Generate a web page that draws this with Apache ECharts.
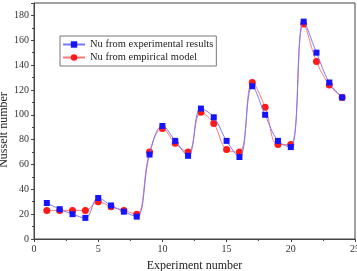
<!DOCTYPE html>
<html>
<head>
<meta charset="utf-8">
<script src="https://cdn.jsdelivr.net/npm/echarts@6/dist/echarts.min.js"></script>
<style>
  html, body { margin: 0; padding: 0; background: #fff; }
  #chart { width: 357px; height: 271px; }
</style>
</head>
<body>
<div id="chart"></div>
<script>
// Experiment numbers and the two Nusselt series
const experiments = [1, 2, 3, 4, 5, 6, 7, 8, 9, 10, 11, 12, 13, 14, 15, 16, 17, 18, 19, 20, 21, 22, 23, 24];
const nuExperimental = [29, 24, 20, 17, 33, 27, 22, 18, 68, 91, 79, 67, 105, 98, 79, 66, 123, 100, 79, 74, 175, 150, 126, 114];
const nuEmpirical = [23, 23, 23, 23, 30, 26, 23, 20, 70, 89, 77, 70, 102, 93, 72, 70, 126, 106, 76, 76, 173, 143, 124, 114];
const seriesNames = ['Nu from experimental results', 'Nu from empirical model'];

var chartDom = document.getElementById('chart');
var myChart = echarts.init(chartDom, null, { renderer: 'canvas' });

const font = '"Liberation Serif", "DejaVu Serif", serif';
const axisColor = '#444';

var option = {
  animation: false,
  backgroundColor: '#fff',
  grid: {
    left: 34,
    right: 2,
    top: 3,
    bottom: 32,
    containLabel: false,
    outerBoundsMode: 'none',
    show: true,
    borderColor: axisColor,
    borderWidth: 1,
  },
  legend: {
    orient: 'vertical',
    left: 60,
    top: 36,
    padding: [3, 3, 3, 2],
    itemGap: 2,
    itemWidth: 22,
    itemHeight: 8,
    borderColor: '#777',
    borderWidth: 1,
    textStyle: { fontFamily: font, fontSize: 10.5, color: '#222' },
    data: seriesNames,
  },
  xAxis: {
    type: 'value',
    min: 0,
    max: 25,
    interval: 5,
    name: 'Experiment number',
    nameLocation: 'middle',
    nameGap: 21,
    nameMoveOverlap: false,
    nameTextStyle: { fontFamily: font, fontSize: 12, color: '#222' },
    axisLine: { show: true, lineStyle: { color: axisColor } },
    axisTick: { show: true, length: 3, lineStyle: { color: axisColor } },
    minorTick: { show: true, splitNumber: 2, length: 2, lineStyle: { color: axisColor } },
    axisLabel: { fontFamily: font, fontSize: 10, color: '#333', margin: 5 },
    splitLine: { show: false },
  },
  yAxis: {
    type: 'value',
    min: 0,
    max: 190,
    interval: 20,
    name: 'Nusselt number',
    nameLocation: 'middle',
    nameGap: 24,
    nameMoveOverlap: false,
    nameTextStyle: { fontFamily: font, fontSize: 12, color: '#222', padding: [0, 18, 0, 0] },
    axisLine: { show: true, lineStyle: { color: axisColor } },
    axisTick: { show: true, length: 3, lineStyle: { color: axisColor } },
    minorTick: { show: true, splitNumber: 2, length: 2, lineStyle: { color: axisColor } },
    axisLabel: {
      fontFamily: font, fontSize: 10, color: '#333', margin: 5,
      formatter: (v) => (v % 20 === 0 ? String(v) : ''),
    },
    splitLine: { show: false },
  },
  series: [
    {
      name: seriesNames[0],
      type: 'line',
      smooth: 0.4,
      symbol: 'rect',
      symbolSize: 6,
      itemStyle: { color: '#1414ff' },
      lineStyle: { color: '#7878ff', width: 1 },
      data: experiments.map((x, i) => [x, nuExperimental[i]]),
      z: 3,
    },
    {
      name: seriesNames[1],
      type: 'line',
      smooth: 0.4,
      symbol: 'circle',
      symbolSize: 7,
      itemStyle: { color: '#ff1a1a' },
      lineStyle: { color: '#ff7878', width: 1 },
      data: experiments.map((x, i) => [x, nuEmpirical[i]]),
      z: 2,
    },
  ],
};

option && myChart.setOption(option);
</script>
</body>
</html>
